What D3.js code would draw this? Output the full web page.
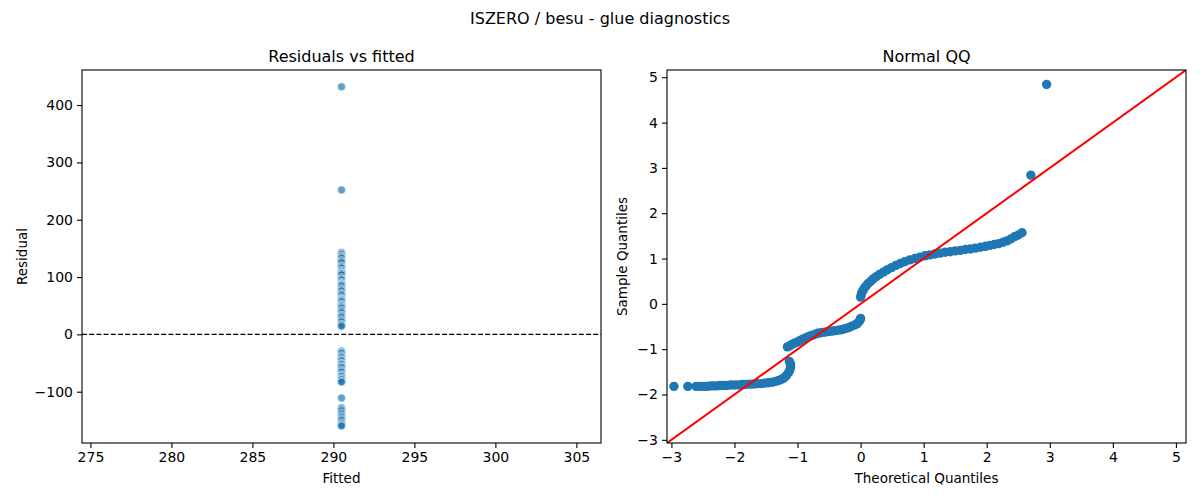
<!DOCTYPE html>
<html>
<head>
<meta charset="utf-8">
<script src="https://cdn.jsdelivr.net/npm/d3@7"></script>
<style>
  body { margin: 0; background: #fff; }
  svg text { font-family: "DejaVu Sans", sans-serif; fill: #000; }
</style>
</head>
<body>
<div id="chart"></div>
<script>
// Residuals vs fitted: every observation has the same fitted value
const fittedValue = 290.5;
const residuals = [
    432, 252,
    143, 141, 140, 137, 135, 133, 129, 127, 125, 120, 118, 116, 112, 110, 108, 107, 106, 104, 99, 97,
    95, 91, 89, 88, 87, 86, 84, 80, 78, 76, 72, 70, 68, 64, 62, 61, 60, 59, 57, 53, 51, 50, 48, 46,
    42, 40, 38, 34, 32, 30, 26, 24, 22, 18, 16, 14,
    -29, -31, -33, -37, -39, -40, -43, -45, -46, -50, -51, -52, -55, -57, -58, -62, -64, -66, -70,
    -72, -73, -76, -78, -79, -82, -83,
    -111, -128, -131, -133, -137, -140, -143, -145, -148, -150, -154, -156, -158, -160
];
const fittedTicks = [275, 280, 285, 290, 295, 300, 305];
const residualTicks = [-100, 0, 100, 200, 300, 400];

// Normal QQ: theoretical quantile / sample quantile pairs
const qqTheoretical = [
    -2.96, -2.74, -2.61, -2.54, -2.48, -2.43, -2.38, -2.33, -2.28, -2.23, -2.18, -2.12, -2.06, -2.00,
    -1.94, -1.88, -1.82, -1.76, -1.70, -1.64, -1.58, -1.52, -1.46, -1.40, -1.35, -1.30, -1.26, -1.22,
    -1.19, -1.17, -1.14, -1.12, -1.11, -1.11, -1.13,
    -1.16, -1.12, -1.08, -1.04, -1.00, -0.96, -0.92, -0.88, -0.84, -0.80, -0.76, -0.72, -0.68, -0.64,
    -0.60, -0.55, -0.50, -0.45, -0.40, -0.35, -0.30, -0.25, -0.20, -0.15, -0.10, -0.06, -0.03, -0.01, 0.00,
    0.00, 0.01, 0.02, 0.04, 0.06, 0.09, 0.12, 0.16, 0.20, 0.25, 0.30, 0.36, 0.42, 0.49, 0.56, 0.63,
    0.70, 0.78, 0.86, 0.94, 1.02, 1.10, 1.18, 1.26, 1.34, 1.42, 1.50, 1.58, 1.66, 1.74, 1.82, 1.90,
    1.98, 2.05, 2.12, 2.19, 2.26, 2.32, 2.38, 2.44, 2.50, 2.56,
    2.70, 2.95
];
const qqSample = [
    -1.82, -1.82, -1.82, -1.82, -1.82, -1.82, -1.81, -1.81, -1.81, -1.80, -1.80, -1.80, -1.79, -1.79,
    -1.79, -1.78, -1.78, -1.77, -1.77, -1.76, -1.76, -1.75, -1.74, -1.73, -1.71, -1.69, -1.67, -1.64,
    -1.60, -1.57, -1.51, -1.45, -1.39, -1.33, -1.27,
    -0.95, -0.92, -0.89, -0.86, -0.84, -0.81, -0.78, -0.76, -0.73, -0.71, -0.69, -0.67, -0.65, -0.64,
    -0.63, -0.62, -0.61, -0.60, -0.59, -0.58, -0.57, -0.55, -0.53, -0.50, -0.47, -0.44, -0.40, -0.36, -0.32,
    0.15, 0.20, 0.25, 0.30, 0.35, 0.40, 0.45, 0.50, 0.55, 0.60, 0.65, 0.70, 0.75, 0.80, 0.85, 0.89,
    0.93, 0.97, 1.00, 1.03, 1.06, 1.08, 1.10, 1.12, 1.14, 1.15, 1.17, 1.18, 1.20, 1.21, 1.23, 1.25,
    1.27, 1.29, 1.31, 1.33, 1.36, 1.39, 1.43, 1.48, 1.52, 1.57,
    2.84, 4.84
];
const qqTicks = [-3, -2, -1, 0, 1, 2, 3, 4, 5];
const qqLimits = [-3.07, 5.16];

const W = 1200, H = 500;
const fmt = d3.format("d");

const svg = d3.select("#chart").append("svg")
    .attr("width", W)
    .attr("height", H);

// Figure title
svg.append("text")
    .attr("x", 600).attr("y", 24)
    .attr("text-anchor", "middle")
    .style("font-size", "16px")
    .text("ISZERO / besu - glue diagnostics");

// Shared panel helper: frame, ticks, labels
const drawPanel = (g, x, y, xTicks, yTicks, title, xLabel, yLabel, yLabelX) => {
    const [x0, x1] = x.range();
    const [y0, y1] = y.range();

    g.append("text")
        .attr("x", (x0 + x1) / 2).attr("y", y1 - 8)
        .attr("text-anchor", "middle")
        .style("font-size", "16px")
        .text(title);

    const xa = g.append("g")
        .attr("transform", "translate(0," + y0 + ")")
        .call(d3.axisBottom(x).tickValues(xTicks).tickFormat(fmt).tickSizeOuter(0).tickSize(5).tickPadding(4));
    const ya = g.append("g")
        .attr("transform", "translate(" + x0 + ",0)")
        .call(d3.axisLeft(y).tickValues(yTicks).tickFormat(fmt).tickSizeOuter(0).tickSize(5).tickPadding(4));
    [xa, ya].forEach((a) => {
        a.select(".domain").remove();
        a.selectAll("line").attr("stroke", "#000").attr("stroke-width", 1.1);
        a.selectAll("text").style("font-size", "14px").attr("fill", "#000");
    });

    g.append("rect")
        .attr("x", x0).attr("y", y1)
        .attr("width", x1 - x0).attr("height", y0 - y1)
        .attr("fill", "none").attr("stroke", "#000").attr("stroke-width", 1.1);

    g.append("text")
        .attr("x", (x0 + x1) / 2).attr("y", y0 + 40)
        .attr("text-anchor", "middle")
        .style("font-size", "13.5px")
        .text(xLabel);

    g.append("text")
        .attr("transform", "translate(" + yLabelX + "," + (y0 + y1) / 2 + ") rotate(-90)")
        .attr("text-anchor", "middle")
        .style("font-size", "13.5px")
        .text(yLabel);
};

// Left panel: residuals vs fitted
const xL = d3.scaleLinear().domain([274.48, 306.52]).range([82, 601]);
const yL = d3.scaleLinear().domain([-189.5, 461.2]).range([443, 70]);
const left = svg.append("g");

left.append("line")
    .attr("x1", 82).attr("x2", 601)
    .attr("y1", yL(0)).attr("y2", yL(0))
    .attr("stroke", "#000").attr("stroke-width", 1.1)
    .attr("stroke-dasharray", "5,2.2");

left.selectAll("circle")
    .data(residuals)
    .enter()
    .append("circle")
    .attr("cx", xL(fittedValue))
    .attr("cy", (d) => yL(d))
    .attr("r", 4)
    .attr("fill", "#1f77b4")
    .attr("fill-opacity", 0.7)
    .attr("stroke", "#fff")
    .attr("stroke-opacity", 0.7)
    .attr("stroke-width", 0.8);

drawPanel(left, xL, yL, fittedTicks, residualTicks, "Residuals vs fitted", "Fitted", "Residual", 27);

// Right panel: normal QQ
const xR = d3.scaleLinear().domain(qqLimits).range([667, 1186]);
const yR = d3.scaleLinear().domain(qqLimits).range([443, 70]);
const right = svg.append("g");

const clip = svg.append("defs").append("clipPath").attr("id", "qq-clip");
clip.append("rect").attr("x", 667).attr("y", 70).attr("width", 519).attr("height", 373);

right.append("g")
    .selectAll("circle")
    .data(qqTheoretical.map((t, i) => [t, qqSample[i]]))
    .enter()
    .append("circle")
    .attr("cx", (d) => xR(d[0]))
    .attr("cy", (d) => yR(d[1]))
    .attr("r", 4.7)
    .attr("fill", "#1f77b4");

right.append("line")
    .attr("clip-path", "url(#qq-clip)")
    .attr("x1", xR(qqLimits[0])).attr("y1", yR(qqLimits[0]))
    .attr("x2", xR(qqLimits[1])).attr("y2", yR(qqLimits[1]))
    .attr("stroke", "#ff0000").attr("stroke-width", 2);

drawPanel(right, xR, yR, qqTicks, qqTicks, "Normal QQ", "Theoretical Quantiles", "Sample Quantiles", 627);
</script>
</body>
</html>
